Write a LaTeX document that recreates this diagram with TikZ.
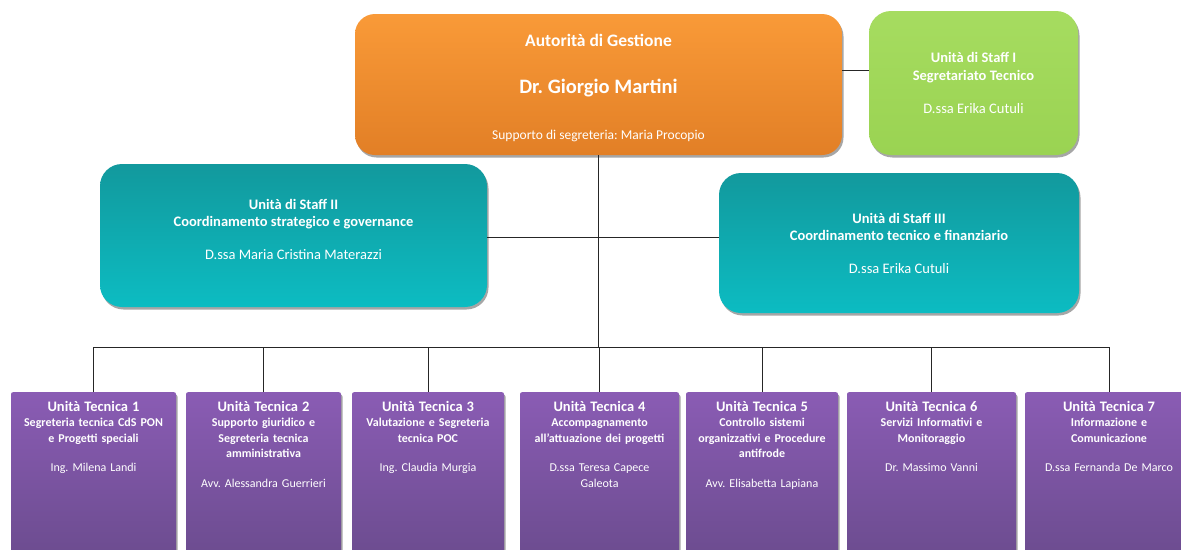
\documentclass[tikz,border=0pt]{standalone}
\usepackage{fontspec}
\setmainfont{Carlito}
\usetikzlibrary{positioning,shadows}
\frenchspacing

\definecolor{agtop}{HTML}{F99A38}
\definecolor{agbot}{HTML}{E27F26}
\definecolor{greentop}{HTML}{A6DC60}
\definecolor{greenbot}{HTML}{9AD352}
\definecolor{tealtop}{HTML}{12999D}
\definecolor{tealbot}{HTML}{0CBCC2}
\definecolor{purpletop}{HTML}{8A5CB4}
\definecolor{purplebot}{HTML}{6A4B8D}

\tikzset{
  boxshadow/.style={drop shadow={shadow xshift=1.5pt, shadow yshift=-2.5pt, opacity=0.35, fill=black}},
  agbox/.style={rounded corners=20pt, top color=agtop, bottom color=agbot, draw=none,
    inner sep=0pt, boxshadow},
  agtext/.style={text=white, align=center, inner sep=0pt},
  staffbox/.style={rounded corners=22pt, draw=none, text=white, align=center,
    inner sep=0pt, boxshadow, font=\fontsize{14.5}{17.5}\selectfont},
  unitbox/.style={rounded corners=2pt, top color=purpletop, bottom color=purplebot,
    draw=none, anchor=north, minimum height=175pt, boxshadow},
  unittext/.style={text=white, align=center, inner sep=0pt,
    font=\fontsize{12}{15.5}\selectfont},
  link/.style={draw=black!85, line width=1pt}
}

\begin{document}
\begin{tikzpicture}[x=1pt,y=-1pt]
\useasboundingbox (0,0) rectangle (1181,549);

% vertice
\node[agbox, minimum width=487pt, minimum height=141pt] (ag) at (598.5,84.5) {};
\node[agtext] (ag-txt) at ([yshift=-3.5pt]ag.center)
  {{\fontsize{17.5}{21}\selectfont\bfseries Autorità di Gestione}\\[31.5pt]
   {\fontsize{20.5}{24}\selectfont\bfseries Dr. Giorgio Martini}\\[32pt]
   {\fontsize{13.5}{16}\selectfont Supporto di segreteria: Maria Procopio}};

% unita di staff
\node[staffbox, top color=greentop, bottom color=greenbot,
  minimum width=209pt, minimum height=144pt] (staff1) at (973.5,83)
  {\textbf{Unità di Staff I}\\\textbf{Segretariato Tecnico}\\[16pt]D.ssa Erika Cutuli};
\node[staffbox, top color=tealtop, bottom color=tealbot, text depth=13pt,
  minimum width=387pt, minimum height=143pt] (staff2) at (293.5,235.5)
  {\textbf{Unità di Staff II}\\\textbf{Coordinamento strategico e governance}\\[15pt]D.ssa Maria Cristina Materazzi};
\node[staffbox, top color=tealtop, bottom color=tealbot,
  minimum width=360pt, minimum height=140pt] (staff3) at (899,243)
  {\textbf{Unità di Staff III}\\\textbf{Coordinamento tecnico e finanziario}\\[15pt]D.ssa Erika Cutuli};

% unita tecniche
\foreach \x/\w/\i/\sub/\name in {
  93.5/165/1/{Segreteria tecnica CdS PON\\e Progetti speciali}/{Ing. Milena Landi},
  263.5/155/2/{Supporto giuridico e\\Segreteria tecnica\\amministrativa}/{Avv. Alessandra Guerrieri},
  428/152/3/{Valutazione e Segreteria\\tecnica POC}/{Ing. Claudia Murgia},
  599.5/159/4/{Accompagnamento\\all’attuazione dei progetti}/{D.ssa Teresa Capece\\Galeota},
  762/152/5/{Controllo sistemi\\organizzativi e Procedure\\antifrode}/{Avv. Elisabetta Lapiana},
  931.5/169/6/{Servizi Informativi e\\Monitoraggio}/{Dr. Massimo Vanni},
  1109/168/7/{Informazione e\\Comunicazione}/{D.ssa Fernanda De Marco}} {
  \node[unitbox, minimum width=\w pt] (ut\i) at (\x,392) {};
  \node[unittext, text width=\w pt, below=9pt of ut\i.north] (ut\i-txt)
    {{\fontsize{14.5}{15.5}\selectfont\bfseries Unità Tecnica \i}\\
     \textbf{\sub}\\[14pt]\name\par};
}

% collegamenti
\coordinate (hub) at (598.5,237);
\coordinate (bus) at (598.5,347);
\draw[link] ([yshift=14pt]ag.east) -- ([yshift=14pt]ag.east -| staff1.west);
\draw[link] (ag.south) -- (bus);
\draw[link] (staff2.east |- hub) -- (hub -| staff3.west);
\draw[link] (ut1.north |- bus) -- (ut7.north |- bus);
\foreach \i in {1,...,7}
  \draw[link] (ut\i.north |- bus) -- (ut\i.north);
\end{tikzpicture}
\end{document}
